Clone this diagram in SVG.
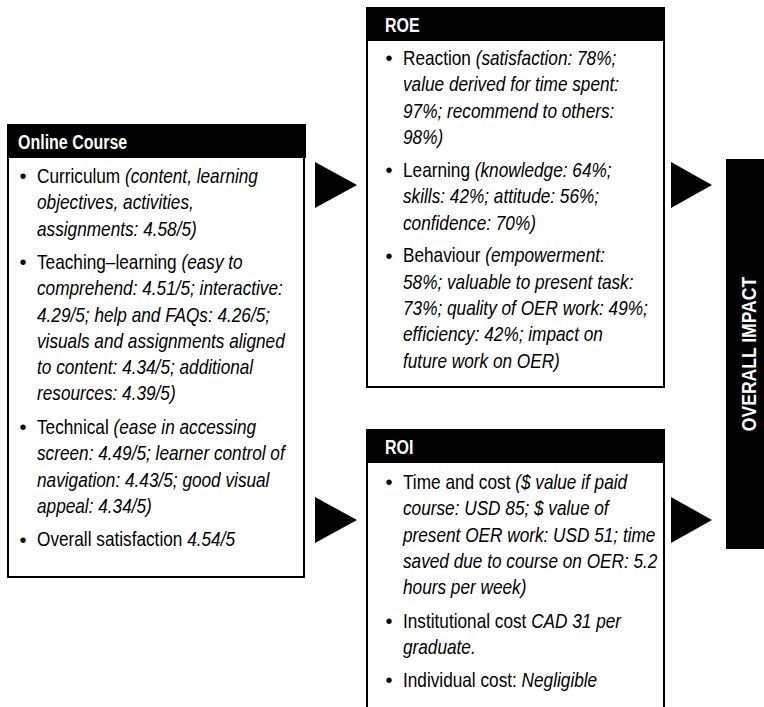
<svg xmlns="http://www.w3.org/2000/svg" width="764" height="707" viewBox="0 0 764 707">
<style>
.box{fill:#fff;stroke:#000;stroke-width:2}
.hdr{fill:#000}
.ht{font-family:'Liberation Sans',Arial,sans-serif;font-weight:bold;font-size:19.5px;fill:#fff}
.t{font-family:'Liberation Sans',Arial,sans-serif;font-size:21px;fill:#000}
.i{font-style:italic}
.b{font-family:'Liberation Sans',Arial,sans-serif;font-size:20px;text-anchor:middle;fill:#000}
.arr{fill:#000}
</style>
<rect width="764" height="707" fill="#fff"/>
<g id="online-course">
<rect class="box" x="8" y="125" width="296" height="452"/>
<rect class="hdr" x="7" y="124" width="299" height="34"/>
<text class="ht" x="0" y="149" transform="translate(18,0) scale(0.82,1)">Online Course</text>
<text class="b" x="23" y="183">•</text>
<text class="b" x="23" y="269">•</text>
<text class="b" x="23" y="434">•</text>
<text class="b" x="23" y="546.5">•</text>
<g transform="translate(37,0) scale(0.82,1)">
<text class="t" x="0" y="183">Curriculum <tspan class="i">(content, learning</tspan></text>
<text class="t i" x="0" y="209.3">objectives, activities,</text>
<text class="t i" x="0" y="235.6">assignments: 4.58/5)</text>
<text class="t" x="0" y="269">Teaching–learning <tspan class="i">(easy to</tspan></text>
<text class="t i" x="0" y="295.3">comprehend: 4.51/5; interactive:</text>
<text class="t i" x="0" y="321.6">4.29/5; help and FAQs: 4.26/5;</text>
<text class="t i" x="0" y="347.9">visuals and assignments aligned</text>
<text class="t i" x="0" y="374.2">to content: 4.34/5; additional</text>
<text class="t i" x="0" y="400.5">resources: 4.39/5)</text>
<text class="t" x="0" y="434">Technical <tspan class="i">(ease in accessing</tspan></text>
<text class="t i" x="0" y="460.3">screen: 4.49/5; learner control of</text>
<text class="t i" x="0" y="486.6">navigation: 4.43/5; good visual</text>
<text class="t i" x="0" y="512.9">appeal: 4.34/5)</text>
<text class="t" x="0" y="546.5">Overall satisfaction <tspan class="i">4.54/5</tspan></text>
</g>
</g>
<g id="roe">
<rect class="box" x="367" y="8" width="297" height="379"/>
<rect class="hdr" x="366" y="7" width="299" height="34"/>
<text class="ht" x="0" y="32" transform="translate(385,0) scale(0.82,1)">ROE</text>
<text class="b" x="389" y="65">•</text>
<text class="b" x="389" y="177">•</text>
<text class="b" x="389" y="262.5">•</text>
<g transform="translate(403,0) scale(0.82,1)">
<text class="t" x="0" y="65">Reaction <tspan class="i">(satisfaction: 78%;</tspan></text>
<text class="t i" x="0" y="91.3">value derived for time spent:</text>
<text class="t i" x="0" y="117.6">97%; recommend to others:</text>
<text class="t i" x="0" y="143.9">98%)</text>
<text class="t" x="0" y="177">Learning <tspan class="i">(knowledge: 64%;</tspan></text>
<text class="t i" x="0" y="203.3">skills: 42%; attitude: 56%;</text>
<text class="t i" x="0" y="229.6">confidence: 70%)</text>
<text class="t" x="0" y="262.5">Behaviour <tspan class="i">(empowerment:</tspan></text>
<text class="t i" x="0" y="288.8">58%; valuable to present task:</text>
<text class="t i" x="0" y="315.1">73%; quality of OER work: 49%;</text>
<text class="t i" x="0" y="341.4">efficiency: 42%; impact on</text>
<text class="t i" x="0" y="367.7">future work on OER)</text>
</g>
</g>
<g id="roi">
<rect class="box" x="367" y="430" width="297" height="290"/>
<rect class="hdr" x="366" y="429" width="299" height="34"/>
<text class="ht" x="0" y="454" transform="translate(385,0) scale(0.82,1)">ROI</text>
<text class="b" x="389" y="489">•</text>
<text class="b" x="389" y="628">•</text>
<text class="b" x="389" y="687">•</text>
<g transform="translate(403,0) scale(0.82,1)">
<text class="t" x="0" y="489">Time and cost <tspan class="i">($ value if paid</tspan></text>
<text class="t i" x="0" y="515.3">course: USD 85; $ value of</text>
<text class="t i" x="0" y="541.6">present OER work: USD 51; time</text>
<text class="t i" x="0" y="567.9">saved due to course on OER: 5.2</text>
<text class="t i" x="0" y="594.2">hours per week)</text>
<text class="t" x="0" y="628">Institutional cost <tspan class="i">CAD 31 per</tspan></text>
<text class="t i" x="0" y="654.3">graduate.</text>
<text class="t" x="0" y="687">Individual cost: <tspan class="i">Negligible</tspan></text>
</g>
</g>
<g id="overall-impact">
<rect class="hdr" x="726" y="159" width="40" height="390"/>
<text class="ht" x="0" y="0" font-size="20" text-anchor="middle" transform="translate(756,354) rotate(-90) scale(0.9,1)">OVERALL IMPACT</text>
</g>
<g id="connectors">
<polygon class="arr" points="315,162 357,185 315,208"/>
<polygon class="arr" points="315,497 357,520 315,543"/>
<polygon class="arr" points="671,162 712,185 671,208"/>
<polygon class="arr" points="671,497 712,520 671,543"/>
</g>
</svg>
